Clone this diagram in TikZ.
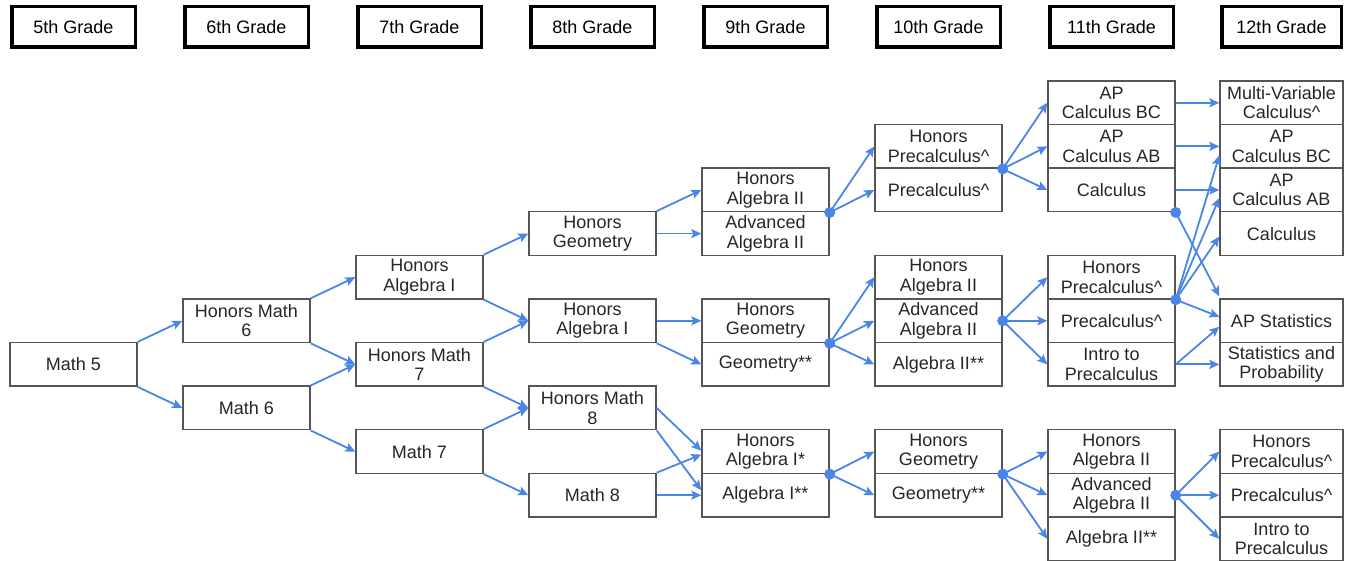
\documentclass[tikz,border=0pt]{standalone}
\usepackage{fontspec}
\setmainfont{Liberation Sans}
\usetikzlibrary{arrows.meta}
\definecolor{linkblue}{RGB}{74,134,232}
\definecolor{boxgray}{RGB}{85,85,85}

\begin{document}
\begin{tikzpicture}[x=1pt,y=-1pt,
  course/.style={draw=boxgray, line width=1.4pt, minimum width=127pt, minimum height=43.6pt,
    inner sep=0pt, align=center, font=\fontsize{18}{19.5}\selectfont, text=black!85},
  lastcol/.style={course, minimum width=123pt},
  gradebox/.style={draw=black, line width=3.5pt, minimum height=40.5pt, inner sep=0pt,
    font=\fontsize{18}{19.5}\selectfont},
  link/.style={draw=linkblue, line width=1.8pt, -{Stealth[length=10pt,width=9pt,inset=2pt]}},
  hub/.style={fill=linkblue}]
\useasboundingbox (0,0) rectangle (1345,561);

% grade headers
\foreach \g/\x/\w in {5/73.5/123.5, 6/246.5/123.5, 7/419.5/123.5, 8/592.5/123.5,
    9/765.5/123.5, 10/938.5/123.5, 11/1111.5/123.5, 12/1281.5/119.5}
  \node[gradebox, minimum width=\w pt] (hdr\g) at (\x,27) {\g th Grade};

% 5th to 8th grade
\node[course] (m5) at (73.5,364.4) {Math 5};
\node[course] (hm6) at (246.5,320.8) {Honors Math\\6};
\node[course] (m6) at (246.5,408) {Math 6};
\node[course] (ha7) at (419.5,277.2) {Honors\\Algebra I};
\node[course] (hm7) at (419.5,364.4) {Honors Math\\7};
\node[course] (m7) at (419.5,451.6) {Math 7};
\node[course] (hg8) at (592.5,233.6) {Honors\\Geometry};
\node[course] (ha8) at (592.5,320.8) {Honors\\Algebra I};
\node[course] (hm8) at (592.5,408) {Honors Math\\8};
\node[course] (m8) at (592.5,495.2) {Math 8};

% 9th grade
\node[course] (g9hal2) at (765.5,190) {Honors\\Algebra II};
\node[course] (g9aal2) at (765.5,233.6) {Advanced\\Algebra II};
\node[course] (g9hgeo) at (765.5,320.8) {Honors\\Geometry};
\node[course] (g9geo) at (765.5,364.4) {Geometry**};
\node[course] (g9hal1) at (765.5,451.6) {Honors\\Algebra I*};
\node[course] (g9al1) at (765.5,495.2) {Algebra I**};

% 10th grade
\node[course] (g10hpre) at (938.5,146.4) {Honors\\Precalculus\textasciicircum};
\node[course] (g10pre) at (938.5,190) {Precalculus\textasciicircum};
\node[course] (g10hal2) at (938.5,277.2) {Honors\\Algebra II};
\node[course] (g10aal2) at (938.5,320.8) {Advanced\\Algebra II};
\node[course] (g10al2) at (938.5,364.4) {Algebra II**};
\node[course] (g10hgeo) at (938.5,451.6) {Honors\\Geometry};
\node[course] (g10geo) at (938.5,495.2) {Geometry**};

% 11th grade
\node[course] (g11bc) at (1111.5,102.8) {AP\\Calculus BC};
\node[course] (g11ab) at (1111.5,146.4) {AP\\Calculus AB};
\node[course] (g11calc) at (1111.5,190) {Calculus};
\node[course] (g11hpre) at (1111.5,277.2) {Honors\\Precalculus\textasciicircum};
\node[course] (g11pre) at (1111.5,320.8) {Precalculus\textasciicircum};
\node[course] (g11intro) at (1111.5,364.4) {Intro to\\Precalculus};
\node[course] (g11hal2) at (1111.5,451.6) {Honors\\Algebra II};
\node[course] (g11aal2) at (1111.5,495.2) {Advanced\\Algebra II};
\node[course] (g11al2) at (1111.5,538.8) {Algebra II**};

% 12th grade
\node[lastcol] (g12mv) at (1281.5,102.8) {Multi-Variable\\Calculus\textasciicircum};
\node[lastcol] (g12bc) at (1281.5,146.4) {AP\\Calculus BC};
\node[lastcol] (g12ab) at (1281.5,190) {AP\\Calculus AB};
\node[lastcol] (g12calc) at (1281.5,233.6) {Calculus};
\node[lastcol] (g12stat) at (1281.5,320.8) {AP Statistics};
\node[lastcol] (g12prob) at (1281.5,364.4) {Statistics and\\Probability};
\node[lastcol] (g12hpre) at (1281.5,451.6) {Honors\\Precalculus\textasciicircum};
\node[lastcol] (g12pre) at (1281.5,495.2) {Precalculus\textasciicircum};
\node[lastcol] (g12intro) at (1281.5,538.8) {Intro to\\Precalculus};

% single paths
\draw[link] (m5.north east) -- (hm6.west);
\draw[link] (m5.south east) -- (m6.west);
\draw[link] (hm6.north east) -- (ha7.west);
\draw[link] (hm6.south east) -- (hm7.west);
\draw[link] (m6.north east) -- (hm7.west);
\draw[link] (m6.south east) -- (m7.west);
\draw[link] (ha7.north east) -- (hg8.west);
\draw[link] (ha7.south east) -- (ha8.west);
\draw[link] (hm7.north east) -- (ha8.west);
\draw[link] (hm7.south east) -- (hm8.west);
\draw[link] (m7.north east) -- (hm8.west);
\draw[link] (m7.south east) -- (m8.west);
\draw[link] (hg8.north east) -- (g9hal2.west);
\draw[link] (hg8.east) -- (g9aal2.west);
\draw[link] (ha8.east) -- (g9hgeo.west);
\draw[link] (ha8.south east) -- (g9geo.west);
\draw[link] (hm8.east) -- ([yshift=1pt]g9hal1.west);
\draw[link] (hm8.south east) -- ([yshift=5pt]g9al1.west);
\draw[link] (m8.north east) -- ([yshift=-3pt]g9hal1.west);
\draw[link] (m8.east) -- (g9al1.west);

% grouped paths out of the hubs
\foreach \t in {g10hpre,g10pre} \draw[link] (g9hal2.south east) -- (\t.west);
\foreach \t in {g10hal2,g10aal2,g10al2} \draw[link] (g9hgeo.south east) -- (\t.west);
\foreach \t in {g10hgeo,g10geo} \draw[link] (g9hal1.south east) -- (\t.west);
\foreach \t in {g11bc,g11ab,g11calc} \draw[link] (g10hpre.south east) -- (\t.west);
\foreach \t in {g11hpre,g11pre,g11intro} \draw[link] (g10aal2.east) -- (\t.west);
\foreach \t in {g11hal2,g11aal2,g11al2} \draw[link] (g10hgeo.south east) -- (\t.west);
\foreach \t in {g12hpre,g12pre,g12intro} \draw[link] (g11aal2.east) -- (\t.west);

% into 12th grade
\draw[link] (g11bc.east) -- (g12mv.west);
\draw[link] (g11ab.east) -- (g12bc.west);
\draw[link] (g11calc.east) -- (g12ab.west);
\draw[link] (g11calc.south east) -- ([yshift=2pt]g12stat.north west);
\draw[link] (g11hpre.south east) -- ([yshift=-9pt]g12bc.west);
\draw[link] (g11hpre.south east) -- ([yshift=-8pt]g12ab.west);
\draw[link] (g11hpre.south east) -- ([yshift=-3pt]g12calc.west);
\draw[link] (g11hpre.south east) -- ([yshift=4pt]g12stat.west);
\draw[link] (g11intro.east) -- ([yshift=-6pt]g12stat.west);
\draw[link] (g11intro.east) -- (g12prob.west);

% hubs
\foreach \h in {g9hal2.south east, g9hgeo.south east, g9hal1.south east,
    g10hpre.south east, g10aal2.east, g10hgeo.south east,
    g11calc.south east, g11hpre.south east, g11aal2.east}
  \fill[hub] (\h) circle[radius=5.5];
\end{tikzpicture}
\end{document}
